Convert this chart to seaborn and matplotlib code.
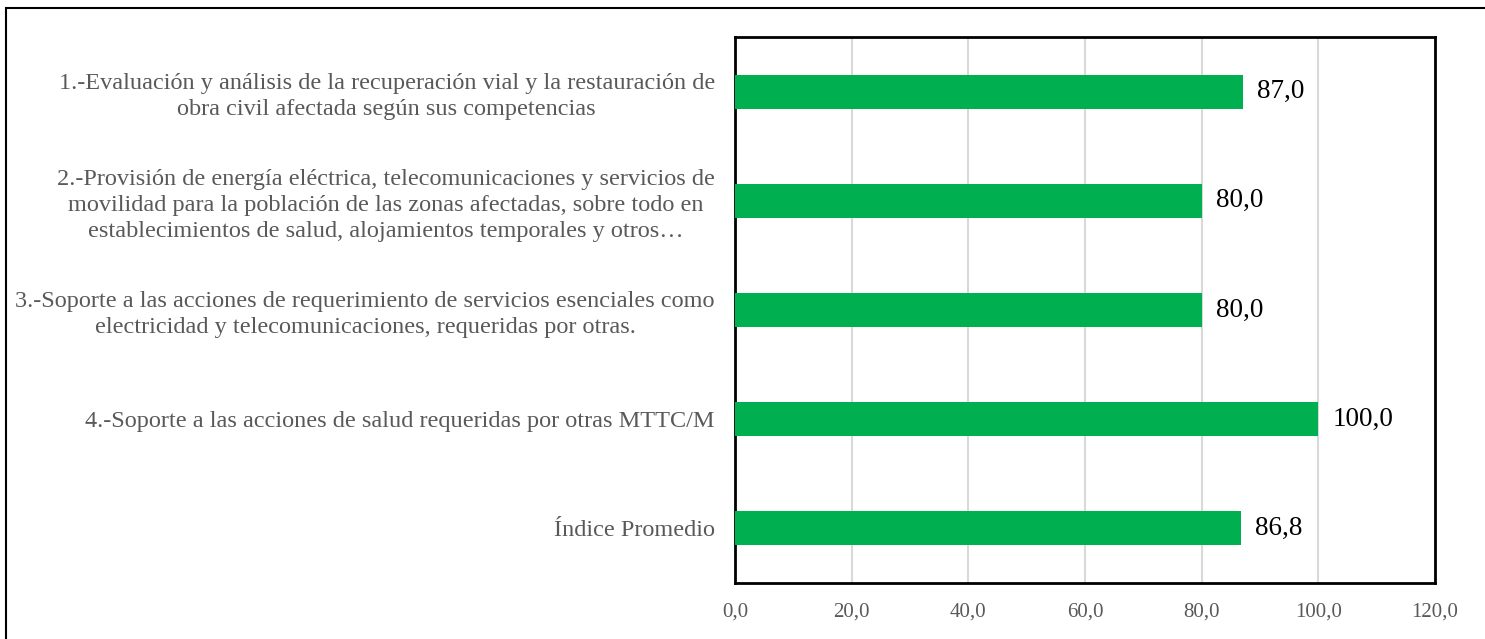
import matplotlib
matplotlib.use("Agg")
import matplotlib.pyplot as plt
import seaborn as sns
import pandas as pd
from matplotlib.patches import Rectangle

categories = [
    "1.-Evaluación y análisis de la recuperación vial y la restauración de\nobra civil afectada según sus competencias",
    "2.-Provisión de energía eléctrica, telecomunicaciones y servicios de\nmovilidad para la población de las zonas afectadas, sobre todo en\nestablecimientos de salud, alojamientos temporales y otros…",
    "3.-Soporte a las acciones de requerimiento de servicios esenciales como\nelectricidad y telecomunicaciones, requeridas por otras.",
    "4.-Soporte a las acciones de salud requeridas por otras MTTC/M",
    "Índice Promedio",
]
values = [87.0, 80.0, 80.0, 100.0, 86.8]
xticks = [0, 20, 40, 60, 80, 100, 120]

sns.set_theme(style="white")
plt.rcParams['font.family'] = ['Liberation Serif', 'DejaVu Serif']

df = pd.DataFrame({"cat": categories, "val": values})

fig = plt.figure(figsize=(14.85, 6.39), dpi=100)
ax = fig.add_axes([735/1485, 1-583/639, 700/1485, 546/639])

sns.barplot(data=df, y="cat", x="val", orient="h", color="#00B050",
            saturation=1, width=0.31, ax=ax, zorder=3, linewidth=0)

ax.set_xlim(0, 120)
ax.set_xticks(xticks)
ax.set_xticklabels([f"{t:.1f}".replace(".", ",") for t in xticks],
                   fontsize=15, color="#595959")
ax.set_ylabel("")
ax.set_xlabel("")
ax.tick_params(axis="x", length=0, pad=14)
ax.tick_params(axis="y", length=0, pad=14.5)
for lab in ax.get_yticklabels():
    lab.set_fontsize(17.5)
    lab.set_color("#595959")
    lab.set_multialignment("center")
    lab.set_linespacing(1.3)

ax.grid(axis="x", color="#d9d9d9", linewidth=1.5, zorder=0)
ax.grid(axis="y", visible=False)
ax.set_axisbelow(True)
for s in ax.spines.values():
    s.set_visible(True)
    s.set_color("black")
    s.set_linewidth(2)

for p, v in zip(ax.patches, values):
    ax.annotate(f"{v:.1f}".replace(".", ","),
                (p.get_width(), p.get_y() + p.get_height()/2),
                xytext=(14, 0), textcoords="offset pixels",
                va="center", ha="left", fontsize=19.5, color="black")

fig.patches.append(Rectangle((5.5/1485, -0.1), 1.2, 1.1 - 8/639,
                             transform=fig.transFigure, fill=False,
                             edgecolor="black", linewidth=1.5))

fig.savefig("out.png", dpi=100)
